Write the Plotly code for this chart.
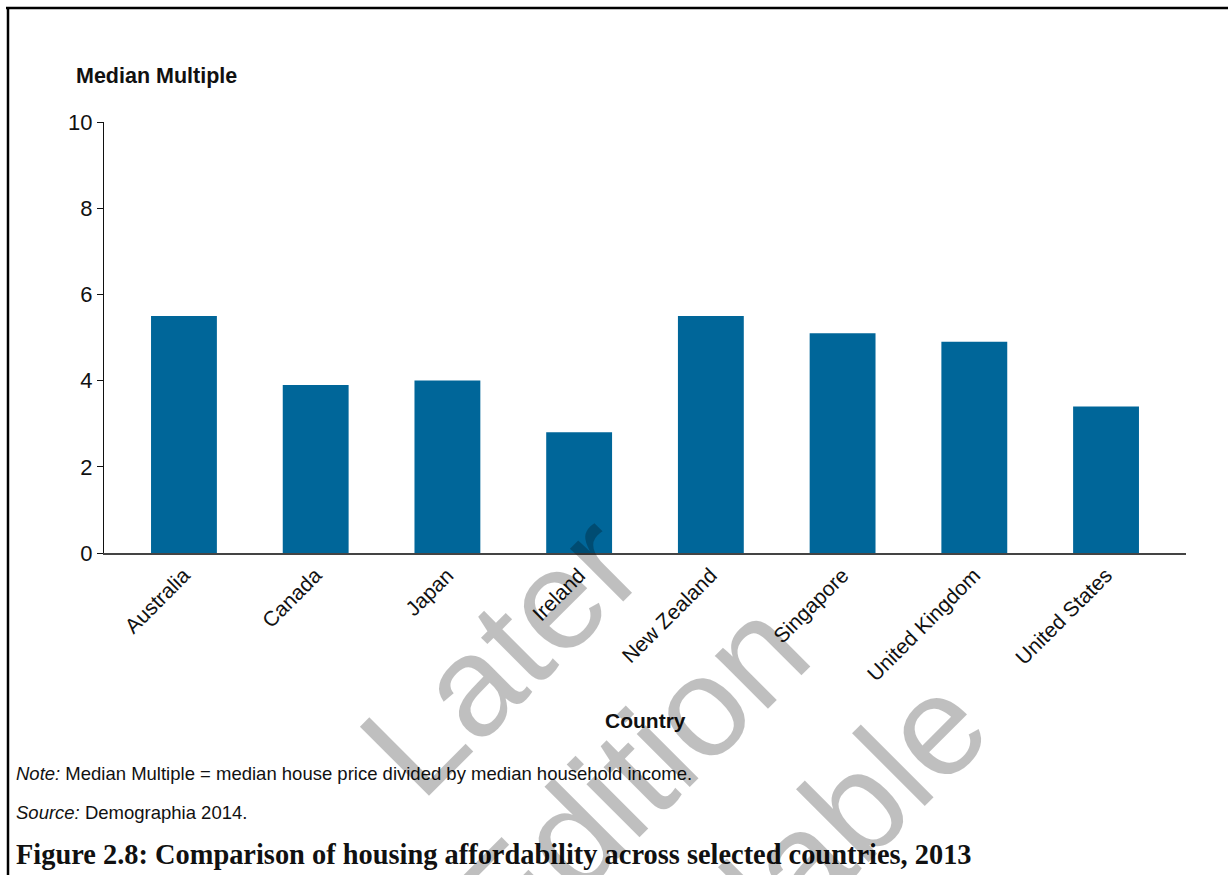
import plotly.graph_objects as go

countries = ["Australia", "Canada", "Japan", "Ireland", "New Zealand",
             "Singapore", "United Kingdom", "United States"]
median_multiple = [5.5, 3.9, 4.0, 2.8, 5.5, 5.1, 4.9, 3.4]
y_ticks = [0, 2, 4, 6, 8, 10]

W, H = 1228, 875
L, R, T, B = 104, 1186, 122, 553


def px(x):
    return (x - L) / (R - L)


def py(y):
    return (B - y) / (B - T)


fig = go.Figure()
fig.add_trace(go.Bar(x=countries, y=median_multiple, marker_color="#006699",
                     marker_line_width=0, width=0.5))

fig.update_layout(
    width=W, height=H,
    margin=dict(l=L, r=W - R, t=T, b=H - B),
    paper_bgcolor="white", plot_bgcolor="white",
    showlegend=False,
    font=dict(family="Liberation Sans, Arial", color="#1a1a1a"),
    bargap=0.5,
)
fig.update_xaxes(
    range=[-0.607, 7.607], showgrid=False, showline=True, linecolor="#444444",
    linewidth=1.5, ticks="", tickangle=-45, tickfont=dict(size=21, color="#111111"),
)
fig.update_yaxes(
    range=[0, 10], tickvals=y_ticks, showgrid=False, showline=True,
    linecolor="#111111", linewidth=1, ticks="outside", ticklen=6,
    tickcolor="#111111", tickfont=dict(size=22, color="#111111"), zeroline=False,
)

ann = []
ann.append(dict(text="<b>Median Multiple</b>", x=px(74), y=py(76), xanchor="left",
                yanchor="middle", font=dict(size=21.5, color="#111111")))
ann.append(dict(text="<b>Country</b>", x=px(645), y=py(720), xanchor="center",
                yanchor="middle", font=dict(size=21, color="#111111")))
ann.append(dict(text="<i>Note:</i> Median Multiple = median house price divided by median household income.",
                x=px(14), y=py(773), xanchor="left", yanchor="middle",
                font=dict(size=18.5, color="#111111")))
ann.append(dict(text="<i>Source:</i> Demographia 2014.", x=px(14), y=py(812),
                xanchor="left", yanchor="middle", font=dict(size=18.5, color="#111111")))
ann.append(dict(text="<b>Figure 2.8: Comparison of housing affordability across selected countries, 2013</b>",
                x=px(14), y=py(854), xanchor="left", yanchor="middle",
                font=dict(size=28.4, color="#111111", family="Liberation Serif, serif")))

# watermark
wm = [("Later", 500, 654), ("Edition", 628, 778), ("Available", 758, 902)]
for t, cx, cy in wm:
    ann.append(dict(text=t, x=px(cx), y=py(cy), xanchor="center", yanchor="middle",
                    textangle=-45, font=dict(size=142, color="rgba(0,0,0,0.25)",
                                             family="Liberation Sans, Arial")))

for a in ann:
    a.update(xref="paper", yref="paper", showarrow=False)
fig.update_layout(annotations=ann)

# page frame (top and left rules)
fig.add_shape(type="line", xref="paper", yref="paper", x0=px(6), x1=px(1240),
              y0=py(8), y1=py(8), line=dict(color="black", width=2.5))
fig.add_shape(type="line", xref="paper", yref="paper", x0=px(8), x1=px(8),
              y0=py(7), y1=py(900), line=dict(color="black", width=2.5))

fig.write_html("out.html")
